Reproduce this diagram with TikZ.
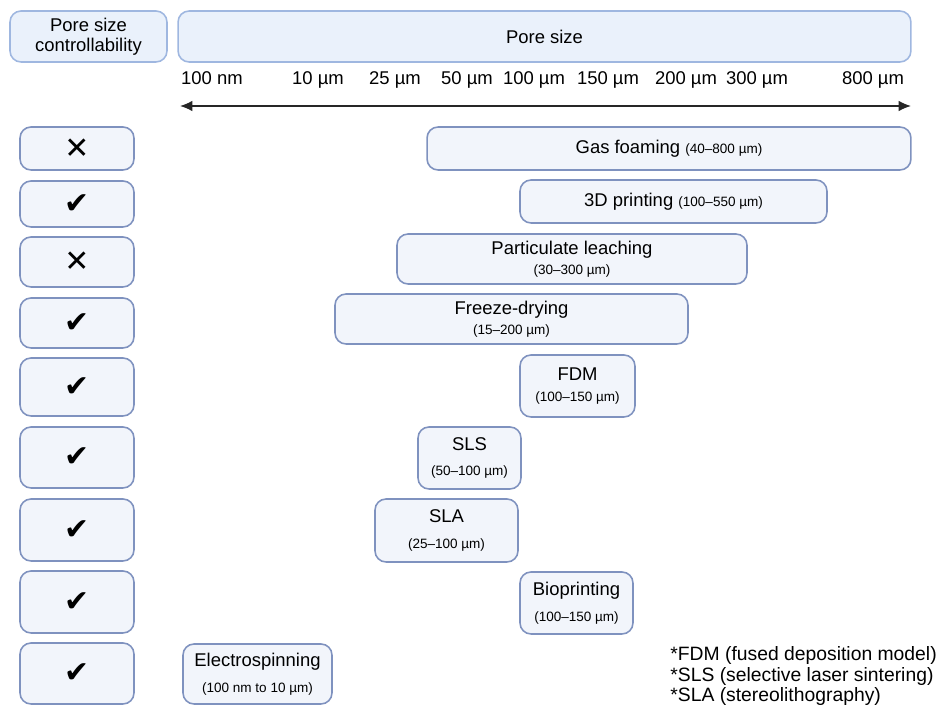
\documentclass[tikz,border=0pt]{standalone}
\usepackage{fontspec}
\setmainfont{Liberation Sans}
\newfontfamily\symfont{DejaVu Sans}
\usetikzlibrary{arrows.meta,positioning}
\definecolor{headfill}{HTML}{EAF1FB}
\definecolor{headdraw}{HTML}{9FB7E0}
\definecolor{boxfill}{HTML}{F2F5FB}
\definecolor{boxdraw}{HTML}{7F92BF}
\tikzset{head node/.style={rectangle, rounded corners=0.22cm, fill=headfill, draw=headdraw,
    line width=0.9pt, inner sep=0pt, align=center, font=\fontsize{10.5}{11.5}\selectfont}}
\tikzset{range node/.style={head node, fill=boxfill, draw=boxdraw, minimum width=#1}}
\tikzset{mark node/.style={range node=2.28cm, font=\symfont\fontsize{17}{17}\selectfont}}
\tikzset{scale label/.style={anchor=base, inner sep=0pt, font=\fontsize{10.5}{11.5}\selectfont}}
\tikzset{scale arrow/.style={{Latex[length=7pt,width=6pt]}-{Latex[length=7pt,width=6pt]}, line width=0.8pt, draw=black!85}}
\tikzset{note/.style={align=left, anchor=base west, inner sep=0pt, font=\fontsize{11}{11.95}\selectfont}}
\newcommand{\poresub}[1]{{\fontsize{7.7}{9}\selectfont #1}}
\newcommand{\yes}{✔}
\newcommand{\no}{\textbf{✕}}

\begin{document}
\begin{tikzpicture}
  [x=0.02cm, y=-0.02cm]
  \useasboundingbox (0,0) rectangle (938,705);

  % headers
  \node [head node, minimum width=3.14cm,  minimum height=1.02cm] (ctrlhead) at ( 88.5, 36.5) {Pore size\\controllability};
  \node [head node, minimum width=14.66cm, minimum height=1.02cm] (sizehead) at (544.5, 36.5) {Pore size};

  % scale
  \node [scale label] (s100nm) at (212, 85) {100 nm};
  \node [scale label] (s10)    at (318, 85) {10 µm};
  \node [scale label] (s25)    at (395, 85) {25 µm};
  \node [scale label] (s50)    at (467, 85) {50 µm};
  \node [scale label] (s100)   at (534, 85) {100 µm};
  \node [scale label] (s150)   at (608, 85) {150 µm};
  \node [scale label] (s200)   at (686, 85) {200 µm};
  \node [scale label] (s300)   at (757, 85) {300 µm};
  \node [scale label] (s800)   at (873, 85) {800 µm};

  \coordinate (axisleft)  at (180, 106);
  \coordinate (axisright) at (911, 106);
  \draw [scale arrow] (axisleft) -- (axisright);

  % controllability
  \node [mark node, minimum height=0.86cm] (ctrl1) at (77, 148.5) {\no};
  \node [mark node, minimum height=0.92cm] (ctrl2) at (77, 204)   {\yes};
  \node [mark node, minimum height=1.00cm] (ctrl3) at (77, 262)   {\no};
  \node [mark node, minimum height=1.00cm] (ctrl4) at (77, 323)   {\yes};
  \node [mark node, minimum height=1.16cm] (ctrl5) at (77, 387)   {\yes};
  \node [mark node, minimum height=1.22cm] (ctrl6) at (77, 457.5) {\yes};
  \node [mark node, minimum height=1.24cm] (ctrl7) at (77, 530)   {\yes};
  \node [mark node, minimum height=1.24cm] (ctrl8) at (77, 602)   {\yes};
  \node [mark node, minimum height=1.22cm] (ctrl9) at (77, 673.5) {\yes};

  % techniques
  \node [range node=9.68cm, minimum height=0.86cm] (gas)     at (669, 148.5)   {Gas foaming \poresub{(40–800 µm)}};
  \node [range node=6.14cm, minimum height=0.86cm] (print3d) at (673.5, 201.5) {3D printing \poresub{(100–550 µm)}};
  \node [range node=7.00cm, minimum height=1.00cm] (leach)   at (572, 259)     {Particulate leaching\\\poresub{(30–300 µm)}};
  \node [range node=7.06cm, minimum height=1.00cm] (freeze)  at (511.5, 319)   {Freeze-drying\\\poresub{(15–200 µm)}};
  \node [range node=2.30cm, minimum height=1.24cm] (fdm)     at (577.5, 386)   {FDM\\\poresub{(100–150 µm)}};
  \node [range node=2.06cm, minimum height=1.24cm] (sls)     at (469.5, 458)   {SLS\\[3pt]\poresub{(50–100 µm)}};
  \node [range node=2.86cm, minimum height=1.26cm] (sla)     at (446.5, 530.5) {SLA\\[3pt]\poresub{(25–100 µm)}};
  \node [range node=2.26cm, minimum height=1.24cm] (bio)     at (576.5, 603)   {Bioprinting\\[3pt]\poresub{(100–150 µm)}};
  \node [range node=2.98cm, minimum height=1.20cm] (electro) at (257.5, 674)   {Electrospinning\\[3pt]\poresub{(100 nm to 10 µm)}};

  \node [note] (abbrev) at (670, 702) {*FDM (fused deposition model)\\*SLS (selective laser sintering)\\*SLA (stereolithography)};
\end{tikzpicture}
\end{document}
